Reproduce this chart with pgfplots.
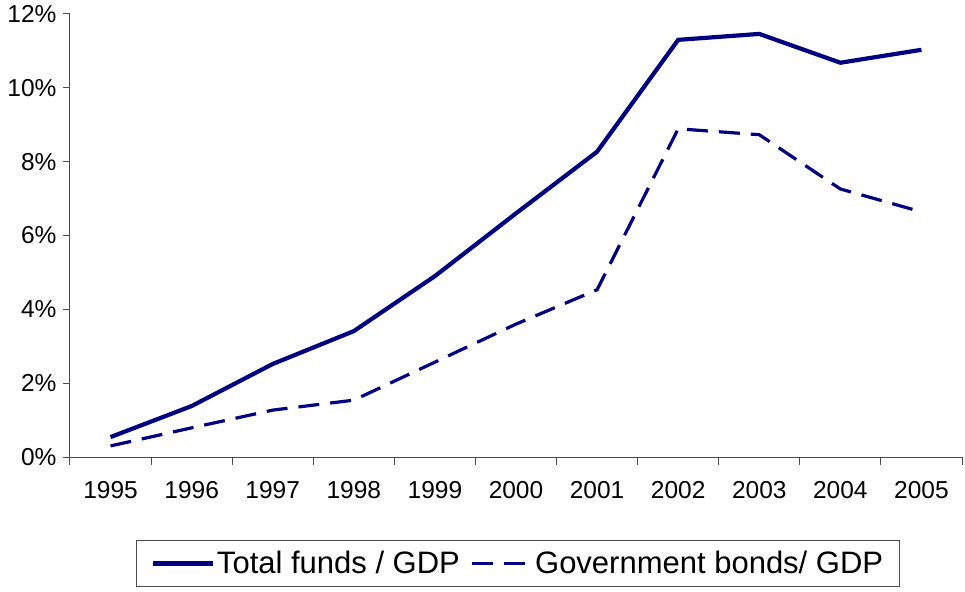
\documentclass[border=0pt]{standalone}
\usepackage{pgfplots}
\pgfplotsset{compat=1.18}
\usepackage{fontspec}
\setmainfont{Liberation Sans}
\definecolor{navy}{RGB}{0,0,128}
\begin{document}
\begin{tikzpicture}
\begin{axis}[
  scale only axis,
  width=892pt, height=443pt,
  xmin=-0.5, xmax=10.5, ymin=0, ymax=12,
  axis lines=left,
  axis line style={-, draw=black!70, line width=1pt},
  xtick={0,...,10},
  xticklabels={1995,1996,1997,1998,1999,2000,2001,2002,2003,2004,2005},
  major x tick style={draw=none},
  minor xtick={-0.5,0.5,...,10.5},
  minor x tick style={draw=black!70, line width=1pt},
  minor tick length=8pt,
  ytick={0,2,...,12},
  yticklabels={0\%,2\%,4\%,6\%,8\%,10\%,12\%},
  y tick style={draw=black!70, line width=1pt},
  major tick length=7pt,
  tick align=outside,
  tick label style={font=\fontsize{24.5}{27}\selectfont},
  yticklabel style={xshift=-3pt},
  xticklabel style={yshift=-14pt},
  legend style={at={(0.5,0)}, anchor=north, yshift=-83pt, xshift=2pt, draw=black!70, line width=1pt,
    font=\fontsize{31}{34}\selectfont, legend columns=2,
    /tikz/every even column/.append style={column sep=8pt},
    inner xsep=14pt, inner ysep=9pt},
  legend image code/.code={\draw[#1] (0pt,0pt) -- (60pt,0pt);},
  clip=false,
]
\addplot[navy, line width=4.2pt] coordinates {
(0,0.54) (1,1.38) (2,2.52) (3,3.41) (4,4.9) (5,6.6) (6,8.27) (7,11.3) (8,11.46) (9,10.68) (10,11.03)};
\addlegendentry{Total funds / GDP}
\addplot[navy, line width=3.2pt, dash pattern=on 21pt off 11pt] coordinates {
(0,0.3) (1,0.79) (2,1.27) (3,1.54) (4,2.57) (5,3.6) (6,4.53) (7,8.89) (8,8.73) (9,7.26) (10,6.64)};
\addlegendentry{Government bonds/ GDP}
\end{axis}
\path (current axis.south west) ++(-70pt,-134pt) coordinate (bl);
\path (current axis.north east) ++(3pt,14pt) coordinate (tr);
\useasboundingbox (bl) rectangle (tr);
\end{tikzpicture}
\end{document}
